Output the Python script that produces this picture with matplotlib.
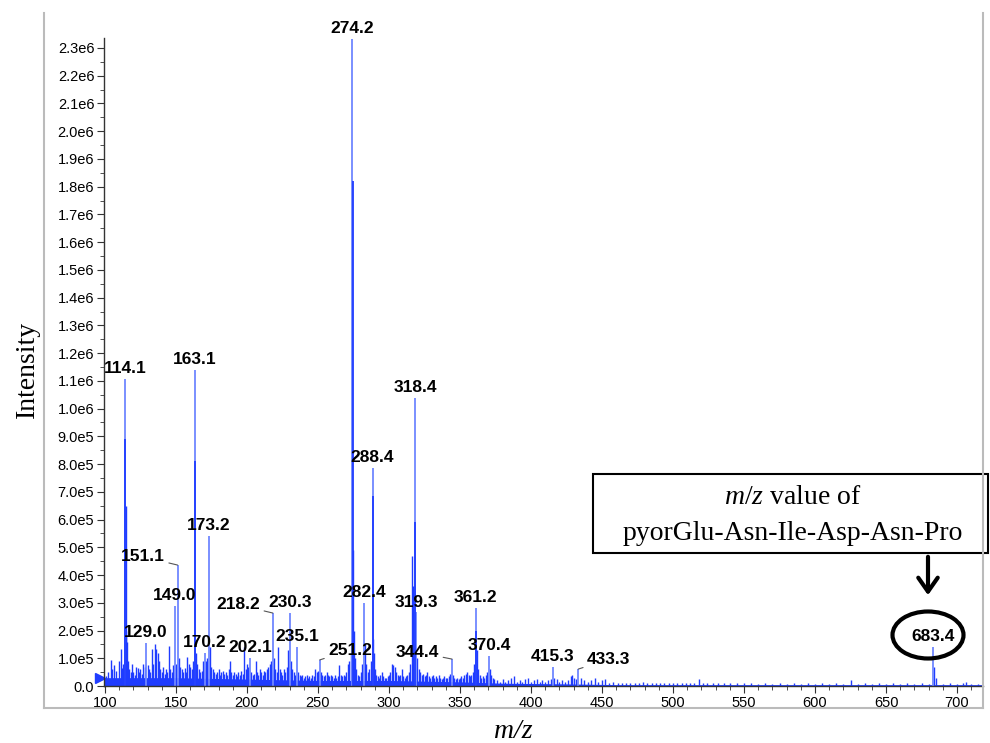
import matplotlib.pyplot as plt
from matplotlib.patches import Rectangle, Ellipse, FancyArrowPatch
from matplotlib.lines import Line2D
from matplotlib.ticker import MultipleLocator, FuncFormatter

plt.rcParams['font.family'] = ['Liberation Sans', 'DejaVu Sans']
plt.rcParams['mathtext.fontset'] = 'custom'
plt.rcParams['mathtext.rm'] = 'Liberation Serif'
plt.rcParams['mathtext.it'] = 'Liberation Serif:italic'

# labelled peaks (m/z, intensity in units of 1e5)
label_mz = [114.1, 129.0, 149.0, 151.1, 163.1, 170.2, 173.2, 202.1, 218.2, 230.3,
            235.1, 251.2, 274.2, 282.4, 288.4, 318.4, 319.3, 344.4, 361.2, 370.4,
            415.3, 433.3, 683.4]
label_int = [11.07, 1.55, 2.88, 4.36, 11.39, 1.20, 5.40, 1.00, 2.63, 2.63,
             1.40, 0.94, 23.33, 3.00, 7.86, 10.40, 2.65, 0.97, 2.81, 1.08,
             0.68, 0.61, 1.40]
# label offsets in points for the labels drawn beside their peak
side_labels = {151.1: (-25, 6), 218.2: (-25, 6), 251.2: (22, 7),
               344.4: (-25, 5), 433.3: (22, 7)}

# inner (darker) part of the big peaks
dark_mz = [114.3, 163.3, 274.3, 288.5, 318.5, 361.4]
dark_int = [8.9, 8.1, 18.2, 6.85, 5.9, 2.0]

# unlabelled peaks and noise
noise_mz = [101, 102, 104, 105, 106, 108, 110, 111, 112, 113, 114.5, 115, 115.5, 116, 117,
            118, 119, 120, 121, 122, 123, 124, 125, 126, 127, 128, 130, 131, 132, 133,
            134, 135, 136, 137, 138, 139, 140, 141, 142, 143, 144, 145, 146, 147, 148,
            150, 152, 153, 154, 155, 156, 157, 158, 159, 160, 161, 162, 164, 165, 166,
            167, 168, 169, 171, 172, 174, 175, 176, 177, 178, 179, 180, 181, 182, 183,
            184, 185, 186, 187, 188, 189, 190, 191, 192, 193, 194, 195, 196, 197, 198,
            199, 200, 201, 203, 204, 205, 206, 207, 208, 209, 210, 211, 212, 213, 214,
            215, 216, 217, 219, 220, 221, 222, 223, 224, 225, 226, 227, 228, 229, 231,
            232, 233, 234, 236, 237, 238, 239, 240, 241, 242, 243, 244, 245, 246, 247,
            248, 249, 250, 252, 253, 254, 255, 256, 257, 258, 259, 260, 261, 262, 263,
            264, 265, 266, 267, 268, 269, 270, 271, 272, 273, 275, 275.6, 276, 277, 278,
            279, 280, 281, 283, 284, 285, 286, 287, 289, 289.5, 290, 291, 292, 293, 294,
            295, 296, 297, 298, 299, 300, 301, 302, 303, 304, 305, 306, 307, 308, 309,
            310, 311, 312, 313, 314, 315, 316.3, 317, 320, 321, 322, 323, 324, 325, 326,
            327, 328, 329, 330, 331, 332, 333, 334, 335, 336, 337, 338, 339, 340, 341,
            342, 343, 345, 346, 347, 348, 349, 350, 351, 352, 353, 354, 355, 356, 357,
            358, 359, 360, 362, 363, 364, 365, 366, 367, 368, 369, 371, 372, 373, 374,
            376, 378, 380, 382, 384, 386, 388, 390, 392, 394, 396, 398, 400, 402, 404,
            406, 408, 410, 412, 414, 416, 418, 420, 422, 424, 426, 428, 429, 430, 432,
            435, 437, 440, 442, 445, 447, 450, 452, 455, 458, 461, 464, 467, 470, 473,
            476, 479, 482, 485, 488, 491, 494, 497, 500, 503, 506, 509, 512, 515, 518,
            521, 524, 528, 532, 536, 540, 545, 550, 555, 560, 565, 570, 575, 580, 585,
            590, 595, 600, 605, 610, 615, 620, 625, 630, 635, 640, 645, 650, 655, 660,
            665, 670, 675, 680, 684, 685, 690, 695, 700, 704, 706, 710, 715]
noise_int = [0.35, 0.5, 0.95, 0.6, 0.75, 0.55, 0.9, 1.35, 0.65, 0.8, 6.5, 2.0, 1.6, 0.9, 0.6,
             0.5, 0.8, 0.5, 0.4, 0.7, 0.65, 0.5, 0.6, 0.45, 0.8, 0.7, 0.75, 0.6, 0.5, 1.35,
             0.8, 1.5, 1.35, 1.2, 0.9, 0.6, 0.5, 0.7, 0.45, 0.6, 0.5, 1.45, 0.6, 0.5, 0.75,
             0.8, 1.0, 0.7, 0.6, 0.5, 0.65, 0.5, 1.05, 0.8, 0.7, 0.6, 0.9, 1.2, 0.8, 0.6,
             0.5, 0.55, 0.9, 0.9, 1.0, 1.4, 0.7, 0.6, 0.5, 0.45, 0.5, 0.6, 0.4, 0.5, 0.55,
             0.45, 0.5, 0.4, 0.6, 0.9, 0.5, 0.4, 0.5, 0.45, 0.35, 0.5, 0.4, 0.55, 0.45, 1.4,
             0.6, 0.8, 0.7, 0.5, 0.4, 0.45, 0.9, 0.5, 0.4, 0.6, 0.5, 0.4, 0.55, 0.5, 0.6,
             0.7, 0.8, 0.9, 1.0, 0.6, 0.5, 1.4, 0.6, 0.5, 0.4, 0.6, 0.5, 0.7, 1.3, 0.9,
             0.6, 0.5, 0.4, 0.5, 0.4, 0.35, 0.4, 0.3, 0.35, 0.4, 0.3, 0.35, 0.3, 0.4, 0.35,
             0.6, 0.5, 0.55, 0.5, 0.4, 0.35, 0.4, 0.5, 0.4, 0.35, 0.4, 0.35, 0.3, 0.4, 0.3,
             0.35, 0.75, 0.4, 0.35, 0.4, 0.35, 0.5, 0.8, 0.9, 1.2, 4.9, 2.0, 1.0, 0.6, 0.4,
             0.35, 0.5, 0.8, 1.5, 0.8, 0.5, 0.6, 0.9, 1.7, 1.2, 0.6, 0.4, 0.35, 0.3, 0.4,
             0.5, 0.35, 0.3, 0.3, 0.35, 0.4, 0.5, 0.8, 0.75, 0.7, 0.5, 0.4, 0.35, 0.4, 0.6,
             0.35, 0.3, 0.35, 0.4, 0.5, 0.8, 4.7, 3.6, 1.0, 0.6, 0.5, 0.4, 0.45, 0.35, 0.4,
             0.5, 0.35, 0.3, 0.35, 0.4, 0.3, 0.35, 0.3, 0.4, 0.3, 0.25, 0.3, 0.35, 0.3, 0.3,
             0.35, 0.45, 0.4, 0.3, 0.25, 0.3, 0.25, 0.3, 0.35, 0.3, 0.4, 0.45, 0.5, 0.4, 0.35,
             0.4, 0.5, 0.8, 1.3, 0.6, 0.4, 0.3, 0.35, 0.3, 0.4, 0.5, 0.6, 0.4, 0.3, 0.25,
             0.2, 0.15, 0.25, 0.15, 0.2, 0.3, 0.35, 0.15, 0.2, 0.15, 0.25, 0.3, 0.15, 0.2, 0.25,
             0.15, 0.2, 0.15, 0.2, 0.25, 0.3, 0.25, 0.15, 0.2, 0.15, 0.2, 0.35, 0.4, 0.3, 0.25,
             0.3, 0.2, 0.15, 0.2, 0.3, 0.15, 0.2, 0.25, 0.12, 0.15, 0.1, 0.12, 0.1, 0.12, 0.1,
             0.12, 0.15, 0.1, 0.12, 0.1, 0.12, 0.1, 0.12, 0.1, 0.12, 0.1, 0.12, 0.1, 0.12, 0.25,
             0.12, 0.1, 0.1, 0.12, 0.1, 0.1, 0.12, 0.1, 0.1, 0.08, 0.1, 0.08, 0.1, 0.08, 0.1,
             0.08, 0.1, 0.08, 0.1, 0.08, 0.1, 0.08, 0.22, 0.08, 0.1, 0.08, 0.1, 0.08, 0.1, 0.08,
             0.1, 0.08, 0.1, 0.08, 0.7, 0.3, 0.08, 0.1, 0.08, 0.12, 0.15, 0.08, 0.06]

# baseline level of the trace
base_mz = [99.3, 150, 200, 250, 300, 350, 380, 420, 460, 718.3]
base_int = [0.3, 0.3, 0.25, 0.2, 0.2, 0.15, 0.1, 0.08, 0.05, 0.05]

light_blue = '#6f87ff'
dark_blue = '#1f3cff'
scale = 1e5

fig = plt.figure(figsize=(9.9, 7.43), dpi=100)
ax = fig.add_axes([104 / 990, 1 - 686 / 743, 879 / 990, 648 / 743])

ax.fill_between(base_mz, 0, [v * scale for v in base_int], color=dark_blue, lw=0)
ax.vlines(noise_mz, 0, [v * scale for v in noise_int], color=dark_blue, lw=1.0)
ax.vlines(label_mz, 0, [v * scale for v in label_int], color=light_blue, lw=1.3)
ax.vlines(dark_mz, 0, [v * scale for v in dark_int], color=dark_blue, lw=1.3)

for mz, h in zip(label_mz, label_int):
    txt = f'{mz:.1f}'
    if mz in side_labels:
        ax.annotate(txt, (mz, h * scale), xytext=side_labels[mz],
                    textcoords='offset points', ha='center', va='center',
                    fontsize=12.5, fontweight='bold',
                    arrowprops=dict(arrowstyle='-', color='#555555', lw=0.8,
                                    shrinkA=1, shrinkB=0))
    else:
        ax.annotate(txt, (mz, h * scale), xytext=(0, 2),
                    textcoords='offset points', ha='center', va='bottom',
                    fontsize=12.5, fontweight='bold')

# start marker on the baseline
ax.plot([96.2], [0.29 * scale], marker='>', color=dark_blue, ms=7, clip_on=False)

ax.set_xlim(99.3, 718.3)
ax.set_ylim(0, 23.36 * scale)

ax.xaxis.set_major_locator(MultipleLocator(50))
ax.xaxis.set_minor_locator(MultipleLocator(10))
ax.yaxis.set_major_locator(MultipleLocator(1e5))
ax.yaxis.set_minor_locator(MultipleLocator(5e4))


def fmt_int(v, pos):
    if v < 1:
        return '0.0'
    if v >= 1e6 - 1:
        return f'{v / 1e6:.1f}e6'
    return f'{v / 1e5:.1f}e5'


ax.yaxis.set_major_formatter(FuncFormatter(fmt_int))
ax.xaxis.set_major_formatter(FuncFormatter(lambda v, p: f'{v:.0f}'))

for side in ['top', 'right']:
    ax.spines[side].set_visible(False)
for side in ['left', 'bottom']:
    ax.spines[side].set_color('#333333')
    ax.spines[side].set_linewidth(1.0)
ax.tick_params(which='major', length=5, color='#333333', labelsize=10.5, pad=2)
ax.tick_params(which='minor', length=3, color='#333333')

fig.text(27 / 990, 1 - 369 / 743, 'Intensity', rotation=90, fontsize=20,
         family='Liberation Serif', ha='center', va='center')
fig.text(513 / 990, 1 - 731 / 743, 'm/z', fontsize=20, family='Liberation Serif',
         style='italic', ha='center', va='center')

# gray frame around the plot
frame_kw = dict(color='#bbbbbb', lw=1.5, transform=fig.transFigure)
fig.add_artist(Line2D([44 / 990, 44 / 990], [1 - 13 / 743, 1 - 708 / 743], **frame_kw))
fig.add_artist(Line2D([44 / 990, 983 / 990], [1 - 708 / 743, 1 - 708 / 743], **frame_kw))
fig.add_artist(Line2D([983 / 990, 983 / 990], [1 - 13 / 743, 1 - 708 / 743], **frame_kw))

# callout for the precursor ion
fig.add_artist(Rectangle((593 / 990, 1 - 553 / 743), 395 / 990, 79 / 743,
                         transform=fig.transFigure, facecolor='white',
                         edgecolor='black', lw=1.5))
fig.text(793 / 990, 1 - 497 / 743, r'$m/z$ value of', fontsize=20,
         family='Liberation Serif', ha='center', va='center')
fig.text(793 / 990, 1 - 533 / 743, 'pyorGlu-Asn-Ile-Asp-Asn-Pro', fontsize=20,
         family='Liberation Serif', ha='center', va='center')
fig.add_artist(FancyArrowPatch((928 / 990, 1 - 554 / 743), (928 / 990, 1 - 598 / 743),
                               transform=fig.transFigure, color='black', lw=3,
                               arrowstyle='->,head_length=0.5,head_width=0.35',
                               mutation_scale=20))
fig.add_artist(Ellipse((928 / 990, 1 - 635 / 743), 71 / 990, 47 / 743,
                       transform=fig.transFigure, fill=False, edgecolor='black', lw=3))

fig.savefig('out.png', dpi=100)
